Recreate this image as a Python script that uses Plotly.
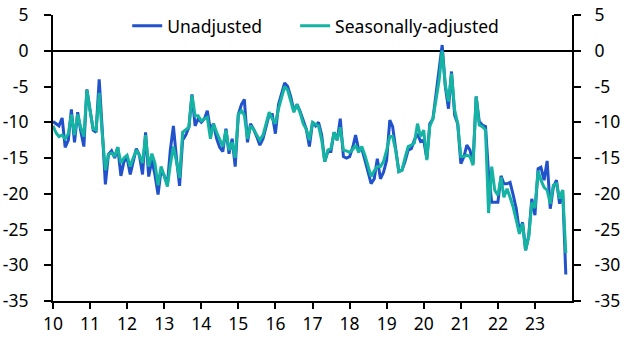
import pandas as pd
import plotly.graph_objects as go

start_month = "2010-01-01"

unadjusted = [
    # 2010
    -9.9, -10.2, -10.5, -9.4, -13.5, -12.5, -8.2, -12.8, -8.6, -11.2, -13.4, -5.4,
    # 2011
    -8.4, -11.1, -11.4, -4.0, -11.0, -18.7, -14.5, -14.0, -15.0, -13.5, -17.5, -15.5,
    # 2012
    -15.0, -17.3, -15.5, -13.7, -14.6, -17.3, -11.4, -17.6, -15.3, -17.3, -20.1, -16.7,
    # 2013
    -17.5, -18.7, -14.0, -10.5, -15.0, -18.9, -12.5, -11.8, -10.7, -6.1, -10.5, -9.5,
    # 2014
    -10.0, -9.5, -8.4, -11.1, -10.2, -12.3, -13.5, -14.1, -10.9, -14.4, -12.3, -16.2,
    # 2015
    -8.9, -7.5, -6.8, -12.8, -10.2, -11.0, -12.0, -13.2, -12.3, -10.5, -8.9, -8.9,
    # 2016
    -11.6, -7.5, -6.0, -4.5, -5.0, -6.5, -8.4, -7.5, -8.5, -9.8, -11.0, -13.4,
    # 2017
    -10.0, -10.5, -10.0, -11.8, -15.5, -14.1, -14.1, -11.4, -12.5, -9.5, -14.8, -15.0,
    # 2018
    -14.8, -13.5, -11.8, -13.9, -13.7, -15.3, -17.0, -18.6, -17.9, -15.1, -17.9, -17.0,
    # 2019
    -15.3, -9.7, -10.6, -14.0, -16.9, -16.7, -15.5, -13.9, -13.7, -12.5, -11.6, -12.7,
    # 2020
    -12.5, -15.1, -10.2, -9.5, -6.2, -3.2, 0.8, -5.0, -8.1, -2.9, -9.0, -10.2,
    # 2021
    -15.8, -14.8, -13.2, -13.9, -15.8, -6.4, -9.9, -10.4, -10.6, -17.2, -21.2, -21.2,
    # 2022
    -21.2, -17.5, -18.6, -18.6, -18.4, -20.2, -22.1, -25.3, -24.0, -27.9, -25.8, -20.7,
    # 2023
    -23.0, -16.5, -16.3, -18.1, -15.4, -22.1, -19.1, -18.1, -21.4, -19.5, -31.3,
]

seasonally_adjusted = [
    # 2010
    -10.5, -11.5, -12.0, -11.8, -12.3, -11.6, -8.9, -11.8, -8.9, -10.7, -12.0, -5.5,
    # 2011
    -8.4, -10.9, -11.1, -5.9, -11.6, -16.7, -14.5, -14.3, -14.8, -13.5, -15.7, -15.0,
    # 2012
    -14.6, -16.2, -15.0, -13.9, -14.6, -15.7, -11.8, -16.2, -14.4, -15.7, -18.8, -16.2,
    # 2013
    -17.5, -19.0, -16.0, -13.4, -15.5, -17.8, -11.4, -11.0, -10.7, -6.2, -9.1, -9.1,
    # 2014
    -9.8, -9.5, -9.3, -12.3, -10.2, -11.4, -12.5, -13.4, -11.1, -13.9, -12.8, -15.0,
    # 2015
    -8.9, -8.4, -9.0, -12.3, -10.5, -11.0, -11.8, -12.5, -11.8, -10.2, -8.6, -9.5,
    # 2016
    -10.2, -8.1, -6.5, -5.0, -5.5, -7.0, -8.6, -7.5, -8.7, -10.2, -11.0, -12.5,
    # 2017
    -10.0, -10.3, -10.5, -12.5, -15.5, -13.9, -13.7, -11.4, -12.5, -10.7, -13.9, -14.0,
    # 2018
    -14.2, -13.8, -13.2, -14.2, -13.4, -14.6, -16.0, -17.6, -16.8, -16.2, -16.2, -15.5,
    # 2019
    -13.9, -12.0, -12.0, -14.0, -16.9, -16.7, -15.0, -13.4, -13.2, -12.9, -10.2, -12.0,
    # 2020
    -11.1, -15.3, -10.6, -9.5, -6.9, -4.1, 0.0, -4.8, -7.1, -3.2, -8.3, -10.2,
    # 2021
    -14.8, -14.8, -14.6, -14.8, -16.0, -6.4, -10.4, -10.6, -11.1, -22.7, -16.2, -19.5,
    # 2022
    -20.2, -17.7, -20.5, -19.3, -20.5, -21.9, -23.7, -25.6, -24.2, -27.9, -26.0, -21.2,
    # 2023
    -22.0, -16.8, -18.1, -19.1, -19.5, -21.4, -18.8, -18.6, -20.7, -19.5, -28.3,
]

year_ticks = list(range(2010, 2024))
y_ticks = [5, 0, -5, -10, -15, -20, -25, -30, -35]
y_tick_labels = ["5", "0", "-5", "-10", "-15", "-20", "-25", "-30", "-35"]

dates = pd.date_range(start_month, periods=len(unadjusted), freq="MS")

BLUE = "#2152CC"
TEAL = "#14B3A2"
FONT = "Noto Sans"

fig = go.Figure()
fig.add_trace(go.Scatter(x=dates, y=unadjusted, name="Unadjusted", mode="lines",
                         line=dict(color=BLUE, width=3), legend="legend"))
fig.add_trace(go.Scatter(x=dates, y=seasonally_adjusted, name="Seasonally-adjusted", mode="lines",
                         line=dict(color=TEAL, width=3), legend="legend2"))
# invisible trace to anchor the right-hand axis
fig.add_trace(go.Scatter(x=dates, y=unadjusted, yaxis="y2", mode="lines", opacity=0,
                         showlegend=False, hoverinfo="skip"))

tick_font = dict(family=FONT, size=17.5, color="#000000")
legend_common = dict(orientation="h", xanchor="left", y=0.962, yanchor="middle",
                     bgcolor="rgba(0,0,0,0)", font=dict(family=FONT, size=17.5),
                     itemwidth=30)

fig.update_layout(
    width=627, height=339,
    margin=dict(l=53, r=55, t=15, b=38, autoexpand=False),
    paper_bgcolor="white", plot_bgcolor="white",
    font=dict(family=FONT, size=17.5, color="#000000"),
    showlegend=True,
    legend=dict(x=0.143, **legend_common),
    legend2=dict(x=0.4665, **legend_common),
    xaxis=dict(
        type="date", automargin=False,
        range=["2010-01-01", "2024-01-01"],
        tickvals=[pd.Timestamp(f"{y}-01-01") for y in year_ticks],
        ticktext=[f"{y % 100:02d}" for y in year_ticks],
        ticks="outside", ticklen=6, tickwidth=2, tickcolor="black",
        showline=True, linecolor="black", linewidth=2,
        showgrid=False, zeroline=False, tickfont=tick_font,
    ),
    yaxis=dict(
        range=[-35, 5], automargin=False,
        tickvals=y_ticks, ticktext=y_tick_labels,
        ticks="outside", ticklen=7, tickwidth=2, tickcolor="black",
        showline=True, linecolor="black", linewidth=2,
        showgrid=False, zeroline=True, zerolinecolor="black", zerolinewidth=2,
        tickfont=tick_font, ticklabelstandoff=12,
    ),
    yaxis2=dict(
        range=[-35, 5], overlaying="y", side="right", automargin=False,
        tickvals=y_ticks, ticktext=y_tick_labels,
        ticks="outside", ticklen=7, tickwidth=2, tickcolor="black",
        showline=True, linecolor="black", linewidth=2,
        showgrid=False, zeroline=False,
        tickfont=tick_font, ticklabelstandoff=10,
    ),
)

fig.write_html("out.html")
